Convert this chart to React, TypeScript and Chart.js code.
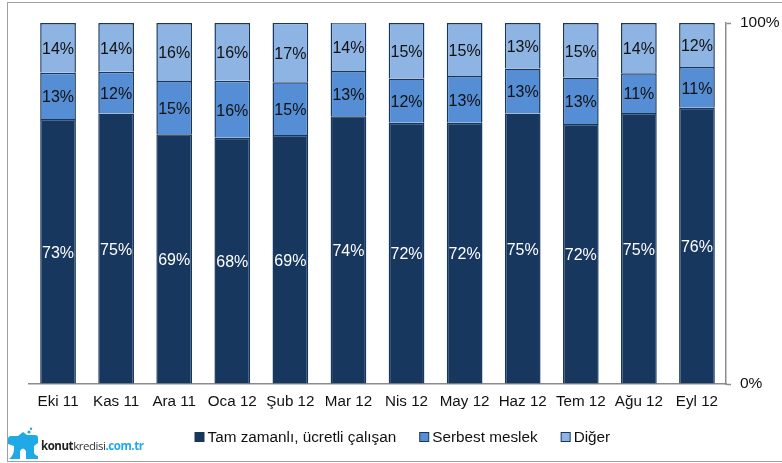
import React, { useEffect, useRef } from "react";
import { Chart, registerables } from "chart.js";

Chart.register(...registerables);

const categories = ["Eki 11", "Kas 11", "Ara 11", "Oca 12", "Şub 12", "Mar 12", "Nis 12", "May 12", "Haz 12", "Tem 12", "Ağu 12", "Eyl 12"];
const tamZamanli = [73.4, 74.9, 69.2, 68.2, 69.0, 74.2, 72.4, 72.4, 74.9, 72.0, 75.1, 76.49];
const serbestMeslek = [12.8, 11.6, 14.7, 15.8, 14.6, 12.5, 12.2, 12.9, 12.5, 12.9, 11.0, 11.3];
const diger = [13.8, 13.5, 16.1, 16.0, 16.5, 13.5, 15.4, 14.7, 12.6, 15.1, 13.9, 12.21];
const yTicks = [0, 100];

const FONT = "'Liberation Sans', Arial, sans-serif";
const DARK = "#17375e";
const MID = "#558ed5";
const LIGHT = "#8eb4e3";
const GRAY = "#8c8c8c";

const segmentLabels = {
  id: "segmentLabels",
  afterDatasetsDraw(chart: any) {
    const { ctx } = chart;
    ctx.save();
    ctx.font = `16px ${FONT}`;
    ctx.textAlign = "center";
    ctx.textBaseline = "middle";
    chart.data.datasets.forEach((ds: any, di: number) => {
      chart.getDatasetMeta(di).data.forEach((bar: any, i: number) => {
        ctx.fillStyle = di === 0 ? "#ffffff" : "#111111";
        ctx.fillText(`${Math.round(ds.data[i])}%`, bar.x, (bar.y + bar.base) / 2 + 2);
      });
    });
    ctx.restore();
  },
};

const bottomLegend = {
  id: "bottomLegend",
  afterDraw(chart: any) {
    const { ctx } = chart;
    ctx.save();
    ctx.font = `15.3px ${FONT}`;
    ctx.textBaseline = "middle";
    ctx.textAlign = "left";
    let x = 195;
    chart.data.datasets.forEach((ds: any) => {
      ctx.fillStyle = ds.backgroundColor;
      ctx.fillRect(x, 432.5, 9, 9);
      ctx.strokeStyle = DARK;
      ctx.lineWidth = 1;
      ctx.strokeRect(x, 432.5, 9, 9);
      ctx.fillStyle = "#111111";
      ctx.fillText(ds.label, x + 12.5, 437.5);
      x += 12.5 + ctx.measureText(ds.label).width + 23.5;
    });
    ctx.restore();
  },
};

export default function App() {
  const ref = useRef<HTMLCanvasElement>(null);
  useEffect(() => {
    document.body.style.margin = "0";
    const mk = (label: string, data: number[], color: string) => ({
      label,
      data,
      backgroundColor: color,
      borderColor: DARK,
      borderWidth: 1.5,
      stack: "a",
      barPercentage: 0.615,
      categoryPercentage: 1,
    });
    const chart = new Chart(ref.current!, {
      type: "bar",
      data: {
        labels: categories,
        datasets: [
          mk("Tam zamanlı, ücretli çalışan", tamZamanli, DARK),
          mk("Serbest meslek", serbestMeslek, MID),
          mk("Diğer", diger, LIGHT),
        ],
      },
      options: {
        animation: false,
        responsive: false,
        maintainAspectRatio: false,
        layout: { padding: { left: 29, right: 0, top: 23, bottom: 0 } },
        plugins: {
          tooltip: { enabled: false },
          legend: { display: false },
        },
        scales: {
          x: {
            stacked: true,
            grid: { display: false, drawTicks: false },
            border: { color: GRAY, width: 1.5 },
            afterFit: (a: any) => {
              a.height = 79;
            },
            ticks: { color: "#111111", font: { family: FONT, size: 15.2 }, padding: 9, maxRotation: 0, autoSkip: false },
          },
          y: {
            stacked: true,
            position: "right",
            min: 0,
            max: 100,
            afterBuildTicks: (a: any) => {
              a.ticks = yTicks.map((value) => ({ value }));
            },
            afterFit: (a: any) => {
              a.width = 56;
            },
            grid: { drawOnChartArea: false, tickLength: 5, color: GRAY, tickWidth: 1.5 },
            border: { color: GRAY, width: 1.5 },
            ticks: {
              color: "#111111",
              font: { family: FONT, size: 15.5 },
              padding: 9,
              callback: (v: any) => `${v}%`,
            },
          },
        },
      },
      plugins: [segmentLabels, bottomLegend],
    } as any);
    return () => chart.destroy();
  }, []);

  return (
    <div style={{ position: "fixed", left: 0, top: 0, width: 782, height: 463, overflow: "hidden", background: "#fff" }}>
      <canvas ref={ref} width={782} height={463} style={{ position: "absolute", left: 0, top: 0 }} />
      <div style={{ position: "absolute", left: 7, top: 2, width: 800, height: 458, border: `1.5px solid #a0a0a0`, pointerEvents: "none" }} />
      <svg style={{ position: "absolute", left: 8, top: 427 }} width="31" height="32" viewBox="0 0 31 32">
        <path d="M0 12 Q0 9 3 9 L10 9 L15 5 L19 8 L27 8 Q30 8 30 11 L30 16 L26 19 L26 25 Q26 28 30 29 L30 32 L18 32 L18 24 Q15 19 12 24 L12 32 L1 32 Q6 28 6 22 L6 19 L0 17 Z" fill="#1fa9e6" />
        <circle cx="21" cy="5" r="1.6" fill="#1fa9e6" />
        <circle cx="23" cy="1.8" r="1.2" fill="#1fa9e6" />
      </svg>
      <div style={{ position: "absolute", left: 41, top: 439, fontFamily: "'Open Sans', sans-serif", fontSize: 11.5, lineHeight: "14px", letterSpacing: -0.45, whiteSpace: "nowrap" }}>
        <span style={{ color: "#222", fontWeight: 700 }}>konut</span>
        <span style={{ color: "#333", fontWeight: 400 }}>kredisi</span>
        <span style={{ color: "#1fa9e6", fontWeight: 700 }}>.com.tr</span>
      </div>
    </div>
  );
}
